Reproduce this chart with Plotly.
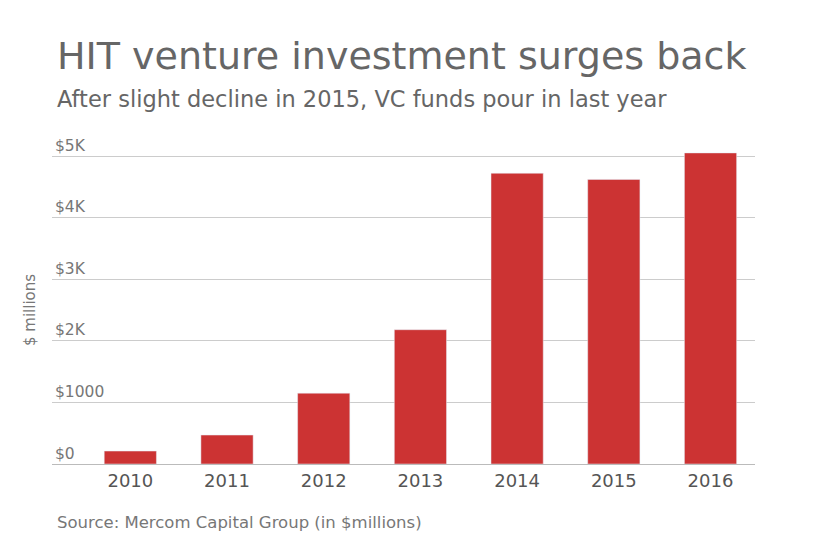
import plotly.graph_objects as go

years = ["2010", "2011", "2012", "2013", "2014", "2015", "2016"]
values = [210, 470, 1150, 2180, 4720, 4620, 5050]
tick_vals = [0, 1000, 2000, 3000, 4000, 5000]
tick_text = ["$0", "$1000", "$2K", "$3K", "$4K", "$5K"]

L, R, T, B = 44, 93, 122, 91
OFF = 8
fig = go.Figure(go.Bar(x=list(range(len(years))), y=values, marker_color="#cc3333", width=0.54))
font = "DejaVu Sans, Verdana, sans-serif"
fig.update_layout(
    width=840, height=547, plot_bgcolor="white", paper_bgcolor="white",
    margin=dict(l=L, r=R, t=T, b=B),
    font=dict(family=font, color="#666666"),
    showlegend=False,
    xaxis=dict(tickvals=list(range(len(years))), ticktext=years, range=[-0.81, 6.46],
               tickfont=dict(size=18, color="#555"), showline=True, linecolor="#bbb",
               showgrid=False, ticks=""),
    yaxis=dict(range=[0, 5422], tickvals=tick_vals, ticktext=tick_text,
               ticklabelposition="inside top", tickfont=dict(size=15.5, color="#777"),
               gridcolor="#cccccc", zeroline=False, showline=False),
)
pw, ph = 840 - L - R, 547 - T - B
def ann(text, px, py, size, color="#666", angle=0, xanchor="left"):
    fig.add_annotation(text=text, xref="paper", yref="paper",
                       x=(px - OFF - L) / pw, y=(547 - (py - OFF) - B) / ph,
                       showarrow=False, textangle=angle, xanchor=xanchor, yanchor="middle",
                       font=dict(size=size, color=color))
ann("HIT venture investment surges back", 55, 56, 38)
ann("After slight decline in 2015, VC funds pour in last year", 55, 99, 22.5)
ann("$ millions", 30, 310, 15, "#777", -90, "center")
ann("Source: Mercom Capital Group (in $millions)", 55, 522, 16.5, "#777")
fig.write_html("out.html")
